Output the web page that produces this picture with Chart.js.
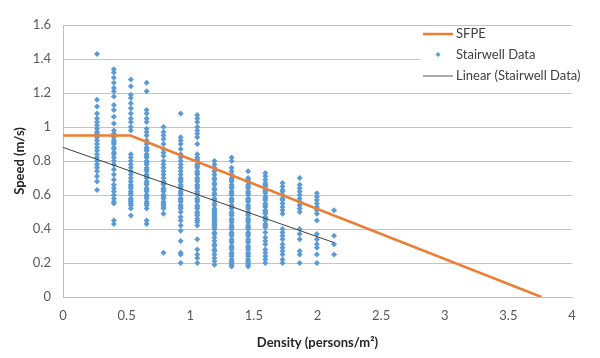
<!DOCTYPE html>
<html>
<head>
<meta charset="utf-8">
<script src="https://cdn.jsdelivr.net/npm/chart.js@4/dist/chart.umd.min.js"></script>
<style>
  html, body { margin: 0; padding: 0; background: #fff; }
  #wrap { width: 600px; height: 358px; }
</style>
</head>
<body>
<div id="wrap"><canvas id="speedChart"></canvas></div>
<script>
// density columns (persons/m2) of the stairwell observations
var stairDensity = [0.267, 0.4, 0.533, 0.657, 0.79, 0.925, 1.055, 1.19, 1.325, 1.455, 1.59, 1.725, 1.86, 1.995, 2.13];

// speeds (m/s)
var stairSpeeds = [
  [1.43, 1.16, 1.12, 1.08, 1.05, 1.03, 1.01, 0.99, 0.97, 0.96, 0.95, 0.94, 0.92, 0.90, 0.88, 0.86, 0.84, 0.82, 0.80, 0.78, 0.76, 0.74, 0.71, 0.68, 0.63],
  [1.34, 1.32, 1.29, 1.26, 1.23, 1.21, 1.18, 1.13, 1.10, 1.06, 1.02, 0.98, 0.96, 0.94, 0.92, 0.91, 0.90, 0.88, 0.87, 0.85, 0.84, 0.82, 0.80, 0.78, 0.75, 0.72, 0.69, 0.66, 0.64, 0.62, 0.60, 0.58, 0.56, 0.55, 0.45, 0.43],
  [1.28, 1.24, 1.19, 1.17, 1.14, 1.11, 1.08, 1.05, 1.03, 1.00, 0.98, 0.84, 0.82, 0.80, 0.78, 0.76, 0.74, 0.72, 0.70, 0.68, 0.66, 0.65, 0.64, 0.62, 0.61, 0.60, 0.58, 0.57, 0.56, 0.55, 0.54, 0.52, 0.48],
  [1.26, 1.21, 1.10, 1.08, 1.05, 1.03, 0.99, 0.97, 0.95, 0.92, 0.90, 0.88, 0.86, 0.84, 0.82, 0.80, 0.78, 0.76, 0.74, 0.72, 0.70, 0.68, 0.66, 0.64, 0.62, 0.60, 0.58, 0.56, 0.54, 0.52, 0.45, 0.43,
   0.87, 0.83, 0.79, 0.75, 0.71, 0.67, 0.63, 0.59, 0.55],
  [1.00, 0.97, 0.95, 0.93, 0.90, 0.87, 0.85, 0.83, 0.80, 0.78, 0.76, 0.74, 0.72, 0.70, 0.68, 0.66, 0.64, 0.62, 0.60, 0.58, 0.56, 0.54, 0.52, 0.49, 0.26,
   0.67, 0.63, 0.59, 0.55, 0.53],
  [1.08, 0.94, 0.92, 0.90, 0.87, 0.84, 0.82, 0.80, 0.78, 0.76, 0.74, 0.72, 0.70, 0.68, 0.66, 0.64, 0.62, 0.60, 0.58, 0.56, 0.54, 0.52, 0.50, 0.47, 0.45, 0.42, 0.39, 0.33, 0.26, 0.25, 0.20,
   0.69, 0.65, 0.61, 0.57, 0.53],
  [1.07, 1.05, 1.03, 1.00, 0.98, 0.96, 0.94, 0.90, 0.84, 0.82, 0.80, 0.78, 0.76, 0.74, 0.72, 0.70, 0.68, 0.66, 0.64, 0.62, 0.60, 0.58, 0.56, 0.54, 0.52, 0.50, 0.48, 0.46, 0.44, 0.42, 0.34, 0.28, 0.25, 0.23, 0.20,
   0.81, 0.77, 0.73, 0.69, 0.65, 0.61, 0.57, 0.53, 0.49, 0.45],
  [0.80, 0.78, 0.76, 0.74, 0.72, 0.70, 0.69, 0.67, 0.66, 0.64, 0.63, 0.61, 0.60, 0.58, 0.57, 0.55, 0.54, 0.52, 0.50, 0.48, 0.46, 0.44, 0.42, 0.40, 0.37, 0.33, 0.30, 0.27, 0.25, 0.23, 0.21, 0.19,
   0.51, 0.49, 0.47, 0.45, 0.43, 0.41, 0.38, 0.35, 0.31, 0.28],
  [0.82, 0.80, 0.76, 0.74, 0.72, 0.70, 0.68, 0.66, 0.64, 0.62, 0.60, 0.58, 0.56, 0.54, 0.52, 0.50, 0.48, 0.46, 0.44, 0.42, 0.40, 0.38, 0.36, 0.34, 0.32, 0.30, 0.28, 0.26, 0.24, 0.22, 0.20, 0.18,
   0.69, 0.65, 0.61, 0.57, 0.53, 0.49, 0.45, 0.41, 0.37, 0.33, 0.29, 0.25, 0.21, 0.19],
  [0.74, 0.70, 0.68, 0.66, 0.64, 0.62, 0.60, 0.58, 0.56, 0.54, 0.52, 0.50, 0.48, 0.46, 0.44, 0.42, 0.40, 0.38, 0.36, 0.34, 0.32, 0.30, 0.28, 0.26, 0.24, 0.22, 0.20, 0.18,
   0.69, 0.65, 0.61, 0.57, 0.53, 0.49, 0.45, 0.41, 0.37, 0.33, 0.29, 0.25, 0.21, 0.19],
  [0.73, 0.71, 0.69, 0.67, 0.65, 0.63, 0.61, 0.59, 0.57, 0.55, 0.53, 0.51, 0.49, 0.47, 0.45, 0.43, 0.41, 0.38, 0.35, 0.33, 0.31, 0.28, 0.26, 0.24, 0.22, 0.20,
   0.66, 0.62, 0.58, 0.54, 0.50, 0.46, 0.42],
  [0.67, 0.65, 0.63, 0.62, 0.60, 0.58, 0.57, 0.55, 0.53, 0.51, 0.49, 0.40, 0.38, 0.36, 0.34, 0.31, 0.29, 0.27, 0.25, 0.22, 0.20],
  [0.70, 0.66, 0.64, 0.62, 0.60, 0.58, 0.56, 0.54, 0.52, 0.50, 0.40, 0.37, 0.34, 0.27, 0.25, 0.20],
  [0.61, 0.59, 0.57, 0.55, 0.53, 0.51, 0.49, 0.45, 0.37, 0.34, 0.31, 0.29, 0.25, 0.20],
  [0.51, 0.36, 0.31, 0.25]
];

// SFPE curve: flat then linear decline
var sfpeDensity = [0, 0.53, 3.76];
var sfpeSpeed = [0.95, 0.95, 0];

// linear trend of the stairwell data (end points)
var trendDensity = [0, 2.13];
var trendSpeed = [0.88, 0.32];

var xTicks = [0, 0.5, 1, 1.5, 2, 2.5, 3, 3.5, 4];
var yTicks = [0, 0.2, 0.4, 0.6, 0.8, 1, 1.2, 1.4, 1.6];

var BLUE = '#5B9BD5';
var ORANGE = '#ED7D31';
var TREND = '#3F3F3F';
var FONT = 'Lato, "Open Sans", sans-serif';

function pairs(xs, ys) {
  return xs.map(function (x, i) { return { x: x, y: ys[i] }; });
}

var stairPoints = [];
stairDensity.forEach(function (d, i) {
  stairSpeeds[i].forEach(function (s) { stairPoints.push({ x: d, y: s }); });
});

// legend drawn like the Excel one, overlaid on the plot's top right
var legendBox = {
  id: 'legendBox',
  afterDatasetsDraw: function (chart) {
    var ctx = chart.ctx;
    ctx.save();
    ctx.fillStyle = '#fff';
    ctx.fillRect(420, 28, 178, 60);
    ctx.font = '13px ' + FONT;
    ctx.fillStyle = '#404040';
    ctx.textBaseline = 'middle';
    ctx.textAlign = 'left';

    ctx.strokeStyle = ORANGE;
    ctx.lineWidth = 2.5;
    ctx.beginPath(); ctx.moveTo(423, 34); ctx.lineTo(453, 34); ctx.stroke();
    ctx.fillText('SFPE', 456, 34);

    ctx.fillStyle = BLUE;
    ctx.beginPath();
    ctx.moveTo(438, 52); ctx.lineTo(440.5, 54.5); ctx.lineTo(438, 57); ctx.lineTo(435.5, 54.5);
    ctx.closePath(); ctx.fill();
    ctx.fillStyle = '#404040';
    ctx.fillText('Stairwell Data', 456, 55);

    ctx.strokeStyle = '#595959';
    ctx.lineWidth = 1;
    ctx.beginPath(); ctx.moveTo(423, 76); ctx.lineTo(453, 76); ctx.stroke();
    ctx.fillText('Linear (Stairwell Data)', 456, 76);
    ctx.restore();
  }
};

var chart = new Chart(document.getElementById('speedChart').getContext('2d'), {
  type: 'scatter',
  data: {
    datasets: [{
      label: 'Linear (Stairwell Data)',
      data: pairs(trendDensity, trendSpeed),
      showLine: true,
      borderColor: TREND,
      borderWidth: 1,
      pointRadius: 0,
      order: 0
    }, {
      label: 'SFPE',
      data: pairs(sfpeDensity, sfpeSpeed),
      showLine: true,
      borderColor: ORANGE,
      borderWidth: 2.5,
      pointRadius: 0,
      order: 1
    }, {
      label: 'Stairwell Data',
      data: stairPoints,
      pointStyle: 'rectRot',
      pointRadius: 3,
      backgroundColor: BLUE,
      borderColor: BLUE,
      borderWidth: 0,
      order: 2
    }]
  },
  options: {
    responsive: true,
    maintainAspectRatio: false,
    animation: false,
    layout: { padding: { top: 25, right: 28, left: 0, bottom: 0 } },
    plugins: {
      legend: { display: false },
      tooltip: { enabled: false }
    },
    scales: {
      x: {
        type: 'linear',
        min: 0,
        max: 4,
        afterBuildTicks: function (axis) { axis.ticks = xTicks.map(function (v) { return { value: v }; }); },
        afterFit: function (axis) { axis.height = 61; },
        grid: { display: false, drawTicks: false },
        border: { display: true, color: '#BFBFBF', width: 1 },
        ticks: {
          padding: 11,
          color: '#595959',
          font: { family: FONT, size: 13 },
          callback: function (v) { return String(+v.toFixed(1)); }
        },
        title: {
          display: true,
          text: 'Density (persons/m²)',
          color: '#262626',
          font: { family: FONT, size: 13, weight: 'bold' },
          padding: { top: 4, bottom: 7 }
        }
      },
      y: {
        type: 'linear',
        min: 0,
        max: 1.6,
        afterBuildTicks: function (axis) { axis.ticks = yTicks.map(function (v) { return { value: v }; }); },
        afterFit: function (axis) { axis.width = 63; },
        grid: { color: '#C4C4C4', lineWidth: 1, drawTicks: false },
        border: { display: true, color: '#BFBFBF', width: 1 },
        ticks: {
          padding: 12,
          color: '#595959',
          font: { family: FONT, size: 13 },
          callback: function (v) { return String(+v.toFixed(1)); }
        },
        title: {
          display: true,
          text: 'Speed (m/s)',
          color: '#262626',
          font: { family: FONT, size: 13, weight: 'bold' },
          padding: { top: 12, bottom: 0 }
        }
      }
    }
  },
  plugins: [legendBox]
});
</script>
</body>
</html>
